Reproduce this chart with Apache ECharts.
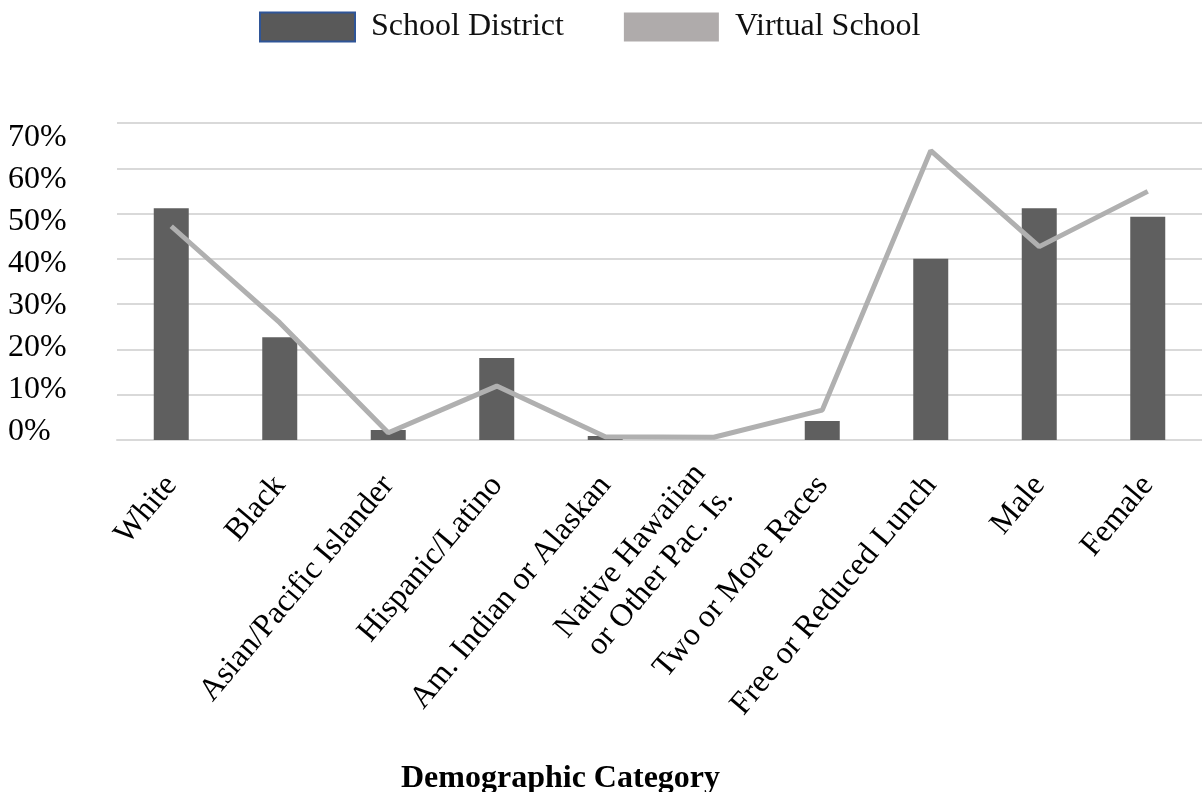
<!DOCTYPE html>
<html>
<head>
<meta charset="utf-8">
<script src="https://cdn.jsdelivr.net/npm/echarts@6/dist/echarts.min.js"></script>
<style>
  html, body { margin: 0; padding: 0; background: #ffffff; }
  #chart { width: 1202px; height: 792px; }
</style>
</head>
<body>
<div id="chart"></div>
<script>
// Demographic categories along the x axis
const categories = [
  'White', 'Black', 'Asian/Pacific Islander', 'Hispanic/Latino',
  'Am. Indian or Alaskan', 'Native Hawaiian\nor Other Pac. Is.',
  'Two or More Races', 'Free or Reduced Lunch', 'Male', 'Female'
];

// Share of students (fractions of 1)
const schoolDistrict = [0.512, 0.227, 0.022, 0.181, 0.009, 0.0, 0.042, 0.400, 0.512, 0.493];
const virtualSchool  = [0.472, 0.259, 0.016, 0.119, 0.007, 0.006, 0.066, 0.639, 0.427, 0.549];

// Percent tick labels on the value axis
const tickValues = [0, 0.1, 0.2, 0.3, 0.4, 0.5, 0.6, 0.7];

const serif = '"Liberation Serif", "Times New Roman", serif';
const pct = v => Math.round(v * 100) + '%';

const chart = echarts.init(document.getElementById('chart'), null, { renderer: 'canvas' });

chart.setOption({
  backgroundColor: '#ffffff',
  animation: false,
  title: {
    text: 'Demographic Category',
    left: 396,
    top: 758,
    textStyle: { fontFamily: serif, fontWeight: 'bold', fontSize: 32, color: '#000000' }
  },
  legend: {
    left: 259,
    top: 11,
    padding: 0,
    itemWidth: 95,
    itemHeight: 29,
    itemGap: 60,
    selectedMode: false,
    textStyle: { fontFamily: serif, fontSize: 32, color: '#111111', padding: [0, 0, 0, 11] },
    data: [
      { name: 'School District', icon: 'rect',
        itemStyle: { color: '#595959', borderColor: '#2f5597', borderWidth: 2 } },
      { name: 'Virtual School', icon: 'rect',
        itemStyle: { color: '#afabab', borderWidth: 0 } }
    ]
  },
  grid: { left: 117, top: 123, width: 1090, height: 317, containLabel: false },
  xAxis: {
    type: 'category',
    data: categories,
    boundaryGap: true,
    axisLine: { show: true, lineStyle: { color: '#d9d9d9', width: 2 } },
    axisTick: { show: false },
    axisLabel: {
      interval: 0,
      rotate: 50,
      margin: 40,
      fontFamily: serif,
      fontSize: 32,
      lineHeight: 36,
      color: '#000000'
    }
  },
  yAxis: [
    {
      type: 'value',
      min: 0,
      max: 0.7,
      interval: 0.1,
      axisLine: { show: false },
      axisTick: { show: false },
      axisLabel: { show: false },
      splitLine: { show: true, lineStyle: { color: '#d9d9d9', width: 2 } }
    },
    {
      // label-only axis carrying the percent ticks
      type: 'value',
      position: 'left',
      min: -0.019,
      max: 0.734,
      axisLine: { show: false },
      axisTick: { show: false },
      splitLine: { show: false },
      axisLabel: {
        customValues: tickValues,
        formatter: pct,
        align: 'left',
        margin: 109,
        fontFamily: serif,
        fontSize: 32,
        color: '#000000'
      }
    }
  ],
  series: [
    {
      name: 'School District',
      type: 'bar',
      yAxisIndex: 0,
      data: schoolDistrict,
      barWidth: 35,
      itemStyle: { color: '#5f5f5f' }
    },
    {
      name: 'Virtual School',
      type: 'line',
      yAxisIndex: 0,
      data: virtualSchool,
      symbol: 'none',
      smooth: false,
      lineStyle: { color: '#b0b0b0', width: 5 },
      itemStyle: { color: '#b0b0b0' }
    }
  ]
});
</script>
</body>
</html>
